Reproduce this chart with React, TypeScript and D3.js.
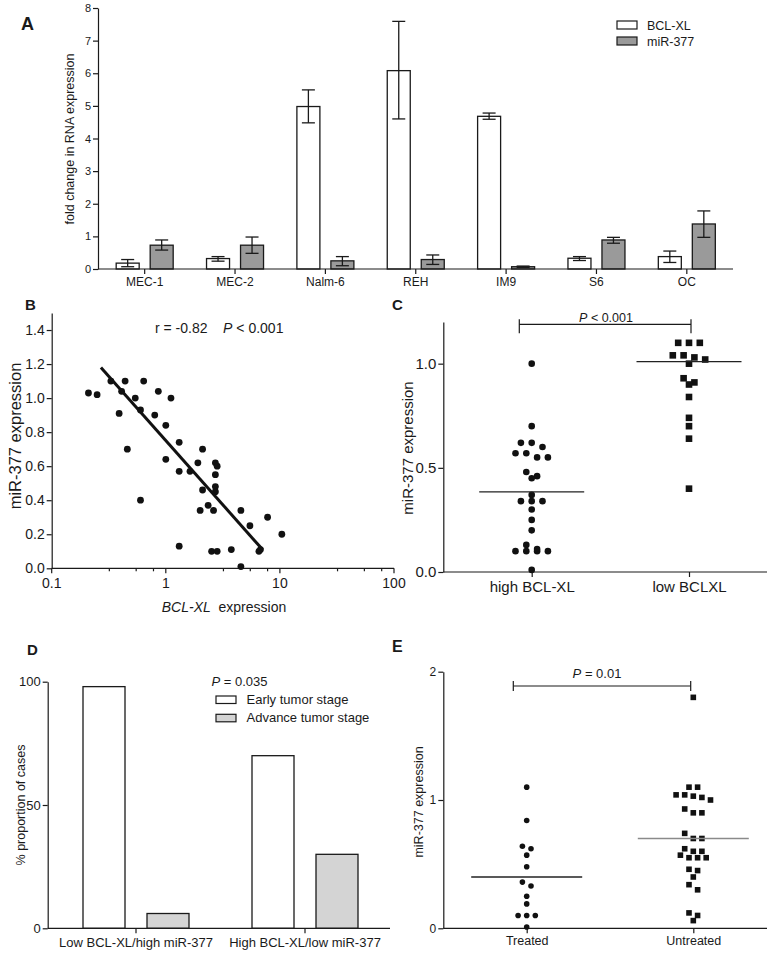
import React, { useRef, useEffect } from "react";
import * as d3 from "d3";

const FONT = "'Liberation Sans', Arial, Helvetica, sans-serif";
const INK = "#1a1a1a";

// ---- Panel A: fold change per cell line
const cellLines = ["MEC-1", "MEC-2", "Nalm-6", "REH", "IM9", "S6", "OC"];
const seriesA = ["BCL-XL", "miR-377"];
const bclMean = [0.18, 0.32, 4.98, 6.08, 4.68, 0.33, 0.38];
const bclLow = [0.07, 0.24, 4.48, 4.6, 4.59, 0.26, 0.2];
const bclHigh = [0.29, 0.38, 5.49, 7.59, 4.78, 0.38, 0.55];
const mirMean = [0.73, 0.73, 0.25, 0.29, 0.07, 0.89, 1.38];
const mirLow = [0.58, 0.48, 0.1, 0.14, 0.05, 0.79, 0.97];
const mirHigh = [0.89, 0.98, 0.38, 0.43, 0.09, 0.97, 1.78];
const ticksA = [0, 1, 2, 3, 4, 5, 6, 7, 8];

// ---- Panel B: correlation scatter
const bclxlB = [0.21, 0.25, 0.33, 0.44, 0.41, 0.64, 0.54, 0.39, 0.6, 0.86, 1.11, 0.8, 1.0, 0.46, 0.6, 1.0, 1.31, 1.31, 1.63, 2.1, 1.91, 2.1, 2.0, 2.35, 2.62, 2.72, 2.82, 2.72, 2.72, 2.72, 1.31, 2.52, 2.82, 3.75, 4.55, 5.46, 7.8, 6.55, 6.75, 10.4, 4.55];
const mirB = [1.03, 1.02, 1.1, 1.1, 1.04, 1.1, 1.0, 0.91, 0.93, 1.04, 1.0, 0.9, 0.84, 0.7, 0.4, 0.64, 0.74, 0.57, 0.57, 0.7, 0.62, 0.46, 0.34, 0.37, 0.34, 0.62, 0.6, 0.55, 0.48, 0.45, 0.13, 0.1, 0.1, 0.11, 0.34, 0.25, 0.3, 0.1, 0.11, 0.2, 0.01];
const fitX = [0.27, 7.05];
const fitY = [1.18, 0.11];
const majorB = [0.1, 1, 10, 100];
const minorB = [0.32, 0.55, 0.78, 3.2, 5.5, 7.8, 32, 55, 78];
const ticksB = [0, 0.2, 0.4, 0.6, 0.8, 1.0, 1.2, 1.4];

// ---- Panel C: high vs low BCL-XL
const groupsC = ["high BCL-XL", "low BCLXL"];
const highC = [1.0, 0.7, 0.6, 0.62, 0.62, 0.57, 0.55, 0.55, 0.57, 0.46, 0.45, 0.48, 0.37, 0.34, 0.34, 0.34, 0.3, 0.25, 0.2, 0.13, 0.1, 0.1, 0.1, 0.1, 0.11, 0.01];
const lowC = [1.1, 1.1, 1.1, 1.04, 1.04, 1.02, 1.03, 1.0, 0.93, 0.91, 0.9, 0.84, 0.74, 0.7, 0.64, 0.4];
const medianC = [0.385, 1.01];
const ticksC = [0, 0.5, 1.0];

// ---- Panel D: tumor stage proportions
const groupsD = ["Low BCL-XL/high miR-377", "High BCL-XL/low miR-377"];
const stagesD = ["Early tumor stage", "Advance tumor stage"];
const earlyD = [98, 70];
const advanceD = [6, 30];
const ticksD = [0, 50, 100];

// ---- Panel E: treated vs untreated
const groupsE = ["Treated", "Untreated"];
const treatedE = [1.1, 0.84, 0.62, 0.64, 0.57, 0.48, 0.36, 0.33, 0.25, 0.19, 0.1, 0.1, 0.1, 0.01];
const untreatedE = [1.8, 1.1, 1.1, 1.04, 1.02, 1.0, 1.03, 1.04, 0.93, 0.9, 0.9, 0.74, 0.7, 0.7, 0.62, 0.6, 0.57, 0.55, 0.55, 0.55, 0.6, 0.46, 0.45, 0.4, 0.34, 0.3, 0.12, 0.1, 0.06];
const medianE = [0.4, 0.7];
const ticksE = [0, 1, 2];

// spread points that share a row, like a column scatter
function swarm(vals: number[], y: (v: number) => number, bin: number, step: number) {
  const idx = d3.range(vals.length).sort((a, b) => vals[b] - vals[a]);
  const off = new Array(vals.length).fill(0);
  let i = 0;
  while (i < idx.length) {
    const start = y(vals[idx[i]]);
    let j = i;
    while (j < idx.length && Math.abs(y(vals[idx[j]]) - start) < bin) j++;
    const n = j - i;
    for (let k = 0; k < n; k++) off[idx[i + k]] = (k - (n - 1) / 2) * step;
    i = j;
  }
  return off;
}

const App = () => {
  const svgRef = useRef<SVGSVGElement>(null);

  useEffect(() => {
    const svg = d3.select(svgRef.current);
    svg.selectAll("*").remove();

    const styleAxis = (g: any, fs: number) => {
      g.selectAll("text").attr("font-size", fs).attr("font-family", FONT).attr("fill", INK);
      g.selectAll("line").attr("stroke", INK).attr("stroke-width", 1.2);
      g.select(".domain").attr("stroke", INK).attr("stroke-width", 1.2);
    };
    const yAxis = (scale: any, x: number, ticks: number[], fmt: any, fs: number) => {
      const g = svg
        .append("g")
        .attr("transform", `translate(${x},0)`)
        .call(d3.axisLeft(scale).tickValues(ticks).tickFormat(fmt).tickSize(5).tickSizeOuter(0).tickPadding(2));
      styleAxis(g, fs);
      return g;
    };
    const xAxis = (scale: any, y: number, x0: number, x1: number, fs: number, pad: number) => {
      const g = svg
        .append("g")
        .attr("transform", `translate(0,${y})`)
        .call(d3.axisBottom(scale).tickSize(5).tickSizeOuter(0).tickPadding(pad));
      g.select(".domain").remove();
      g.append("line").attr("x1", x0).attr("x2", x1).attr("y1", 0).attr("y2", 0);
      styleAxis(g, fs);
      return g;
    };
    const letter = (t: string, x: number, y: number, fs: number) =>
      svg.append("text").attr("x", x).attr("y", y).attr("font-size", fs).attr("font-weight", "bold").attr("font-family", FONT).attr("fill", INK).text(t);
    const yLabel = (t: string, x: number, y: number, fs: number) =>
      svg.append("text").attr("transform", `translate(${x},${y}) rotate(-90)`).attr("text-anchor", "middle").attr("font-size", fs).attr("font-family", FONT).attr("fill", INK).text(t);
    const pText = (rest: string, x: number, y: number, fs: number, anchor = "middle") => {
      const t = svg.append("text").attr("x", x).attr("y", y).attr("text-anchor", anchor).attr("font-size", fs).attr("font-family", FONT).attr("fill", INK);
      t.append("tspan").attr("font-style", "italic").text("P");
      t.append("tspan").text(rest);
      return t;
    };

    // ================= Panel A
    const yA = d3.scaleLinear().domain([0, 8]).range([269, 8]);
    const xA = d3.scaleBand().domain(cellLines).range([99.5, 732]).padding(0);
    const xA1 = d3.scaleBand().domain(seriesA).range([-28.5, 28.5]).paddingInner(11 / 34);
    const colorA: Record<string, string> = { "BCL-XL": "#ffffff", "miR-377": "#9a9a9a" };
    const rowsA = cellLines.flatMap((c, i) => [
      { c, s: "BCL-XL", v: bclMean[i], lo: bclLow[i], hi: bclHigh[i] },
      { c, s: "miR-377", v: mirMean[i], lo: mirLow[i], hi: mirHigh[i] },
    ]);
    const cx = (d: any) => (xA(d.c) as number) + xA.bandwidth() / 2 + (xA1(d.s) as number);
    svg
      .append("g")
      .selectAll("rect")
      .data(rowsA)
      .join("rect")
      .attr("x", cx)
      .attr("y", (d) => yA(d.v))
      .attr("width", xA1.bandwidth())
      .attr("height", (d) => yA(0) - yA(d.v))
      .attr("fill", (d) => colorA[d.s])
      .attr("stroke", INK)
      .attr("stroke-width", 1.3);
    const errA = svg.append("g").attr("stroke", INK).attr("stroke-width", 1.3);
    rowsA.forEach((d) => {
      const m = cx(d) + xA1.bandwidth() / 2;
      errA.append("line").attr("x1", m).attr("x2", m).attr("y1", yA(d.lo)).attr("y2", yA(d.hi));
      errA.append("line").attr("x1", m - 6.5).attr("x2", m + 6.5).attr("y1", yA(d.lo)).attr("y2", yA(d.lo));
      errA.append("line").attr("x1", m - 6.5).attr("x2", m + 6.5).attr("y1", yA(d.hi)).attr("y2", yA(d.hi));
    });
    yAxis(yA, 98, ticksA, d3.format("d"), 11);
    xAxis(xA, 269, 98, 733, 12, 3);
    yLabel("fold change in RNA expression", 74, 139, 12.5);
    letter("A", 21, 30, 18);
    seriesA.forEach((s, i) => {
      svg.append("rect").attr("x", 617).attr("y", 21 + i * 16).attr("width", 20).attr("height", 8).attr("fill", colorA[s]).attr("stroke", INK).attr("stroke-width", 1.2);
      svg.append("text").attr("x", 647).attr("y", 30 + i * 16).attr("font-size", 12.5).attr("font-family", FONT).attr("fill", INK).text(s);
    });

    // ================= Panel B
    const xB = d3.scaleLog().domain([0.1, 100]).range([51.7, 394]);
    const yB = d3.scaleLinear().domain([0, 1.5]).range([568.3, 313]);
    yAxis(yB, 51.7, ticksB, d3.format(".1f"), 14);
    const gxB = svg.append("g").attr("transform", "translate(0,568.3)");
    gxB.append("line").attr("x1", 51.7).attr("x2", 394).attr("stroke", INK).attr("stroke-width", 1.2);
    gxB.selectAll(".maj").data(majorB).join("line").attr("x1", (d) => xB(d)).attr("x2", (d) => xB(d)).attr("y2", 5).attr("stroke", INK).attr("stroke-width", 1.2);
    gxB.selectAll(".min").data(minorB).join("line").attr("x1", (d) => xB(d)).attr("x2", (d) => xB(d)).attr("y2", 3).attr("stroke", INK).attr("stroke-width", 1.2);
    gxB.selectAll("text").data(majorB).join("text").attr("x", (d) => xB(d)).attr("y", 20).attr("text-anchor", "middle").attr("font-size", 14).attr("font-family", FONT).attr("fill", INK).text((d) => String(d));
    svg.append("g").selectAll("circle").data(bclxlB).join("circle").attr("cx", (d) => xB(d)).attr("cy", (_, i) => yB(mirB[i])).attr("r", 3.4).attr("fill", "#111");
    svg.append("line").attr("x1", xB(fitX[0])).attr("y1", yB(fitY[0])).attr("x2", xB(fitX[1])).attr("y2", yB(fitY[1])).attr("stroke", "#111").attr("stroke-width", 3);
    yLabel("miR-377 expression", 21, 436, 16.5);
    const xl = svg.append("text").attr("x", 224).attr("y", 612).attr("text-anchor", "middle").attr("font-size", 14).attr("font-family", FONT).attr("fill", INK);
    xl.append("tspan").attr("font-style", "italic").text("BCL-XL");
    xl.append("tspan").text("\u00a0 expression");
    const rt = svg.append("text").attr("x", 155).attr("y", 333).attr("font-size", 14).attr("font-family", FONT).attr("fill", INK);
    rt.append("tspan").text("r = -0.82\u00a0\u00a0\u00a0 ");
    rt.append("tspan").attr("font-style", "italic").text("P");
    rt.append("tspan").text(" < 0.001");
    letter("B", 25, 310, 15);

    // ================= Panel C
    const yC = d3.scaleLinear().domain([0, 1.2]).range([572, 322]);
    const xC = d3.scalePoint().domain(groupsC).range([531.7, 689]);
    yAxis(yC, 443.3, ticksC, d3.format(".1f"), 15);
    xAxis(xC, 572, 443.3, 767, 15, 4);
    const offHigh = swarm(highC, yC, 6, 10.8);
    const offLow = swarm(lowC, yC, 6, 10.8);
    svg.append("g").selectAll("circle").data(highC).join("circle").attr("cx", (_, i) => (xC(groupsC[0]) as number) + offHigh[i]).attr("cy", (d) => yC(d)).attr("r", 3.3).attr("fill", "#111");
    svg.append("g").selectAll("rect").data(lowC).join("rect").attr("x", (_, i) => (xC(groupsC[1]) as number) + offLow[i] - 3.3).attr("y", (d) => yC(d) - 3.3).attr("width", 6.6).attr("height", 6.6).attr("fill", "#111");
    medianC.forEach((m, i) => {
      const c = xC(groupsC[i]) as number;
      svg.append("line").attr("x1", c - 52.5).attr("x2", c + 52.5).attr("y1", yC(m)).attr("y2", yC(m)).attr("stroke", "#222").attr("stroke-width", 1.2);
    });
    {
      const l = (xC(groupsC[0]) as number) - 12.4;
      const r = (xC(groupsC[1]) as number) + 2;
      const by = 324.3;
      const gb = svg.append("g").attr("stroke", INK).attr("stroke-width", 1.2);
      gb.append("line").attr("x1", l).attr("x2", r).attr("y1", by).attr("y2", by);
      gb.append("line").attr("x1", l).attr("x2", l).attr("y1", by - 5).attr("y2", by + 9);
      gb.append("line").attr("x1", r).attr("x2", r).attr("y1", by - 5).attr("y2", by + 9);
      pText(" < 0.001", 606, 321.5, 12.5);
    }
    yLabel("miR-377 expression", 413, 448, 15);
    letter("C", 392, 310, 15);

    // ================= Panel D
    const yD = d3.scaleLinear().domain([0, 100]).range([928.3, 681.7]);
    const xD = d3.scaleBand().domain(groupsD).range([51.5, 389.5]).padding(0);
    const xD1 = d3.scaleBand().domain(stagesD).range([-53, 53]).paddingInner(22 / 64);
    const colorD: Record<string, string> = { "Early tumor stage": "#ffffff", "Advance tumor stage": "#d4d4d4" };
    const rowsD = groupsD.flatMap((g, i) => [
      { g, s: stagesD[0], v: earlyD[i] },
      { g, s: stagesD[1], v: advanceD[i] },
    ]);
    svg
      .append("g")
      .selectAll("rect")
      .data(rowsD)
      .join("rect")
      .attr("x", (d) => (xD(d.g) as number) + xD.bandwidth() / 2 + (xD1(d.s) as number))
      .attr("y", (d) => yD(d.v))
      .attr("width", xD1.bandwidth())
      .attr("height", (d) => yD(0) - yD(d.v))
      .attr("fill", (d) => colorD[d.s])
      .attr("stroke", INK)
      .attr("stroke-width", 1.3);
    yAxis(yD, 47.7, ticksD, d3.format("d"), 13);
    xAxis(xD, 928.3, 47.7, 390, 13, 4);
    yLabel("% proportion of cases", 25, 805, 12.5);
    pText(" = 0.035", 211.5, 685.5, 13, "start");
    stagesD.forEach((s, i) => {
      svg.append("rect").attr("x", 216).attr("y", 696 + i * 18.3).attr("width", 20).attr("height", 7.5).attr("fill", colorD[s]).attr("stroke", INK).attr("stroke-width", 1.2);
      svg.append("text").attr("x", 246.5).attr("y", 704 + i * 18.3).attr("font-size", 13).attr("font-family", FONT).attr("fill", INK).text(s);
    });
    letter("D", 27, 655, 15);

    // ================= Panel E
    const yE = d3.scaleLinear().domain([0, 2]).range([928.3, 671.7]);
    const xE = d3.scalePoint().domain(groupsE).range([526.7, 693.3]);
    yAxis(yE, 443.3, ticksE, d3.format("d"), 12);
    xAxis(xE, 928.3, 443.3, 767, 12.5, 3);
    const offT = swarm(treatedE, yE, 6, 8.6);
    const offU = swarm(untreatedE, yE, 6, 8.6);
    svg.append("g").selectAll("circle").data(treatedE).join("circle").attr("cx", (_, i) => (xE(groupsE[0]) as number) + offT[i]).attr("cy", (d) => yE(d)).attr("r", 2.8).attr("fill", "#111");
    svg.append("g").selectAll("rect").data(untreatedE).join("rect").attr("x", (_, i) => (xE(groupsE[1]) as number) + offU[i] - 2.8).attr("y", (d) => yE(d) - 2.8).attr("width", 5.6).attr("height", 5.6).attr("fill", "#111");
    medianE.forEach((m, i) => {
      const c = xE(groupsE[i]) as number;
      svg.append("line").attr("x1", c - 55.5).attr("x2", c + 55.5).attr("y1", yE(m)).attr("y2", yE(m)).attr("stroke", i === 0 ? "#222" : "#8a8a8a").attr("stroke-width", 1.3);
    });
    {
      const l = (xE(groupsE[0]) as number) - 13.4;
      const r = (xE(groupsE[1]) as number) - 2.6;
      const by = 686;
      const gb = svg.append("g").attr("stroke", INK).attr("stroke-width", 1.2);
      gb.append("line").attr("x1", l).attr("x2", r).attr("y1", by).attr("y2", by);
      gb.append("line").attr("x1", l).attr("x2", l).attr("y1", by - 5).attr("y2", by + 5);
      gb.append("line").attr("x1", r).attr("x2", r).attr("y1", by - 5).attr("y2", by + 5);
      pText(" = 0.01", 597, 678, 13);
    }
    yLabel("miR-377 expression", 423, 802, 12.5);
    letter("E", 392, 652, 16);
  }, []);

  return (
    <svg
      ref={svgRef}
      width={778}
      height={954}
      style={{ position: "absolute", left: 0, top: 0, background: "#fff" }}
      fontFamily={FONT}
    ></svg>
  );
};

export default App;
